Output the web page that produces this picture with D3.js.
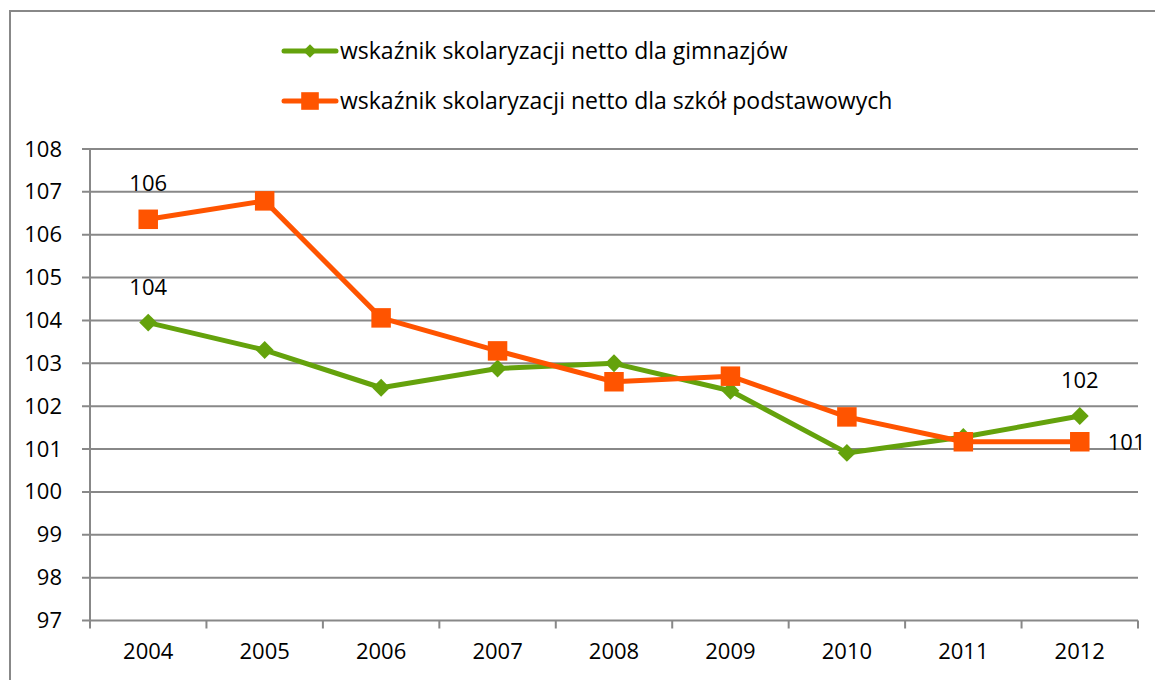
<!DOCTYPE html>
<html lang="pl">
<head>
  <meta charset="utf-8">
  <script src="https://d3js.org/d3.v7.min.js"></script>
  <style>
    body { margin: 0; background: #fff; }
    svg text { font-family: "Open Sans", "Liberation Sans", Arial, sans-serif; fill: #000; }
  </style>
</head>
<body>
<div id="chart"></div>
<script>

// data
var years = ["2004","2005","2006","2007","2008","2009","2010","2011","2012"];
var gimnazja = [103.95, 103.31, 102.43, 102.88, 103.0, 102.36, 100.91, 101.28, 101.77];
var podstawowe = [106.36, 106.79, 104.06, 103.29, 102.57, 102.70, 101.75, 101.17, 101.17];
var yTicks = [97, 98, 99, 100, 101, 102, 103, 104, 105, 106, 107, 108];
var seriesNames = ["wskaźnik skolaryzacji netto dla gimnazjów",
                   "wskaźnik skolaryzacji netto dla szkół podstawowych"];

var W = 1155, H = 680;
var margin = {top: 149, right: 17, bottom: 60, left: 90},
  width = W - margin.left - margin.right,
  height = 620.5 - margin.top;

var green = "#64A20C", orange = "#FF5400", grid = "#888888";
var font = "Open Sans, Liberation Sans, Arial, sans-serif";

var svg = d3.select("#chart").append("svg")
  .attr("width", W).attr("height", H);

// outer frame
svg.append("rect")
  .attr("x", 10).attr("y", 11)
  .attr("width", W + 20).attr("height", H + 20)
  .attr("fill", "none").attr("stroke", grid).attr("stroke-width", 2);

var g = svg.append("g")
  .attr("transform", "translate(" + margin.left + "," + margin.top + ")");

var x = d3.scaleBand().domain(years).range([0, width]);
var y = d3.scaleLinear().domain([97, 108]).range([height, 0]);
var cx = function(i) { return x(years[i]) + x.bandwidth() / 2; };

// gridlines
g.selectAll(".grid").data(yTicks).enter().append("line")
  .attr("x1", -8).attr("x2", width)
  .attr("y1", function(d) { return y(d); })
  .attr("y2", function(d) { return y(d); })
  .attr("stroke", grid).attr("stroke-width", 2);

// y axis
var yAxis = g.append("g")
  .call(d3.axisLeft(y).tickValues(yTicks).tickSize(0).tickPadding(28));
yAxis.select(".domain").remove();
yAxis.selectAll("text").style("font-size", "22px")
  .attr("font-family", font).attr("fill", "#000");
g.append("line").attr("x1", 0).attr("x2", 0).attr("y1", 0).attr("y2", height + 8)
  .attr("stroke", grid).attr("stroke-width", 2);

// x axis
var xAxis = g.append("g")
  .attr("transform", "translate(0," + height + ")")
  .call(d3.axisBottom(x).tickSize(0).tickPadding(23));
xAxis.select(".domain").remove();
xAxis.selectAll("text").style("font-size", "22px")
  .attr("font-family", font).attr("fill", "#000");
g.selectAll(".xtick").data(years).enter().append("line")
  .attr("x1", function(d, i) { return x.bandwidth() * (i + 1); })
  .attr("x2", function(d, i) { return x.bandwidth() * (i + 1); })
  .attr("y1", height).attr("y2", height + 8)
  .attr("stroke", grid).attr("stroke-width", 2);

var line = d3.line()
  .x(function(d, i) { return cx(i); })
  .y(function(d) { return y(d); });

var diamond = d3.symbol().type(d3.symbolSquare).size(160);
var square = d3.symbol().type(d3.symbolSquare).size(380);

// green series
g.append("path").datum(gimnazja).attr("d", line)
  .attr("fill", "none").attr("stroke", green).attr("stroke-width", 5)
  .attr("stroke-linejoin", "round");
g.selectAll(".gm").data(gimnazja).enter().append("path")
  .attr("d", diamond)
  .attr("transform", function(d, i) { return "translate(" + cx(i) + "," + y(d) + ") rotate(45)"; })
  .attr("fill", green);

// orange series
g.append("path").datum(podstawowe).attr("d", line)
  .attr("fill", "none").attr("stroke", orange).attr("stroke-width", 5)
  .attr("stroke-linejoin", "round");
g.selectAll(".pm").data(podstawowe).enter().append("path")
  .attr("d", square)
  .attr("transform", function(d, i) { return "translate(" + cx(i) + "," + y(d) + ")"; })
  .attr("fill", orange);

// data labels
var labels = [
  {i: 0, v: podstawowe[0], dx: 0, dy: -28, anchor: "middle"},
  {i: 0, v: gimnazja[0], dx: 0, dy: -28, anchor: "middle"},
  {i: 8, v: gimnazja[8], dx: 0, dy: -28, anchor: "middle"},
  {i: 8, v: podstawowe[8], dx: 28, dy: 8, anchor: "start"}
];
g.selectAll(".lbl").data(labels).enter().append("text")
  .attr("x", function(d) { return cx(d.i) + d.dx; })
  .attr("y", function(d) { return y(d.v) + d.dy; })
  .attr("text-anchor", function(d) { return d.anchor; })
  .style("font-size", "22px")
  .text(function(d) { return Math.round(d.v); });

// legend
var legend = svg.append("g");
var legColors = [green, orange];
var legSym = [d3.symbol().type(d3.symbolSquare).size(90), d3.symbol().type(d3.symbolSquare).size(310)];
seriesNames.forEach(function(name, k) {
  var ly = 51 + k * 50;
  legend.append("line").attr("x1", 284).attr("x2", 336).attr("y1", ly).attr("y2", ly)
    .attr("stroke", legColors[k]).attr("stroke-width", 5).attr("stroke-linecap", "round");
  legend.append("path").attr("d", legSym[k])
    .attr("transform", "translate(310," + ly + ")" + (k === 0 ? " rotate(45)" : ""))
    .attr("fill", legColors[k]);
  legend.append("text").attr("x", 340).attr("y", ly + 8)
    .style("font-size", "23px").text(name);
});

</script>
</body>
</html>
